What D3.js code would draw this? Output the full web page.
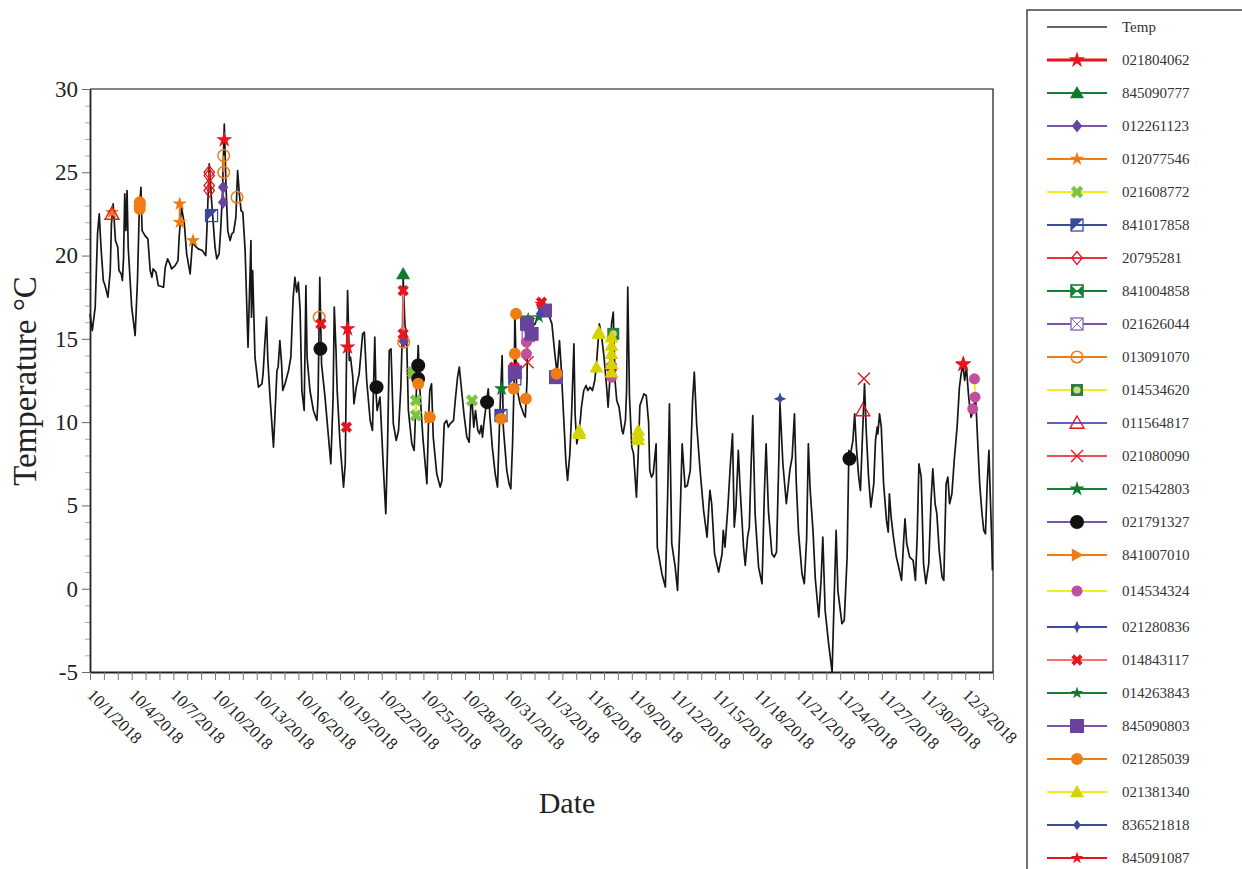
<!DOCTYPE html>
<html>
<head>
<meta charset="utf-8">
<script src="https://cdn.jsdelivr.net/npm/d3@7"></script>
<style>
  body { margin: 0; background: #fff; }
  text { font-family: "Liberation Serif", "Times New Roman", serif; }
</style>
</head>
<body>
<div id="main"></div>
<script>

// hourly logger temperature, hours counted from 2018-10-01 00:00
var tempHour = [0,4,9,13,16,19,23,26,31,35,37,40,44,48,50,54,56,58,60,62,64,66,72,78,82,85,88,90,95,100,
  104,107,109,114,118,127,130,134,138,141,147,152,154,158,163,167,173,177,181,187,194,200,202,206,210,216,219,223,226,229,
  232,235,238,242,245,248,252,255,258,261,264,268,273,278,279,281,285,291,297,299,302,305,307,311,317,323,325,328,331,333,
  337,343,347,351,354,357,360,363,366,370,373,375,380,386,392,394,397,400,406,412,416,420,422,425,427,432,438,441,443,445,
  448,450,454,456,460,465,471,474,478,484,488,492,494,496,501,507,511,514,517,520,524,529,533,537,540,541,544,547,550,556,
  560,563,567,570,575,582,585,587,590,593,599,605,608,612,616,619,622,628,631,635,638,642,646,651,655,658,660,663,666,670,
  673,676,678,681,685,688,691,695,700,704,708,712,714,720,724,727,730,733,734,737,743,749,752,755,756,763,769,775,780,786,
  792,798,803,807,811,814,818,822,825,829,832,836,838,841,844,847,849,853,857,860,864,868,872,875,880,884,888,893,895,898,
  901,904,907,910,914,919,921,925,927,929,932,936,939,944,947,950,953,957,961,965,967,970,973,978,980,988,994,998,1001,1005,
  1011,1015,1019,1023,1028,1032,1037,1041,1044,1048,1054,1060,1066,1069,1071,1074,1079,1086,1092,1094,1097,1102,1106,1110,1113,1116,1120,1123,1129,1132,
  1136,1139,1142,1145,1149,1155,1161,1165,1168,1172,1178,1182,1186,1190,1192,1197,1203,1209,1213,1217,1220,1224,1230,1234,1238,1241,1244,1249,1253,1259,
  1263,1266,1270,1276,1282,1286,1289,1292,1299,1303,1308,1311,1314,1318,1321,1324,1328,1331,1334,1338,1341,1345,1349,1354,1357,1360,1361,1364,1367,1371,
  1376,1379,1381,1384,1388,1393,1397,1402,1406,1408,1411,1416,1422,1426,1429,1432,1436,1440,1444,1449,1453,1456,1460,1463,1467,1472,1475,1479,1482,1485,
  1489,1493,1498,1502,1505,1508,1511,1514,1518,1522,1526,1530,1534,1537,1541,1544,1547,1550,1553,1555,1558,1559];

var tempValue = [16.5,15.5,16.9,21.3,22.5,20.5,18.5,18.2,17.5,19.1,21.9,23.1,20.9,20.5,19.1,18.9,18.5,19.9,23.7,21.5,
  23.9,20.5,16.9,15.2,18.5,22.5,24.1,21.5,21.2,21.0,19.1,18.7,19.2,19.0,18.2,18.1,19.3,19.8,19.5,19.2,
  19.4,19.7,21.1,22.9,21.9,20.1,18.9,20.8,20.6,20.4,20.3,20.0,21.6,25.5,23.3,20.5,19.8,20.1,21.7,23.9,
  27.9,24.1,21.5,20.9,21.3,21.4,22.3,25.1,23.7,22.7,22.6,20.3,14.5,20.9,16.3,19.1,13.9,12.1,12.3,12.9,
  14.7,16.3,13.9,11.5,8.5,13.1,13.3,14.9,13.5,11.9,12.3,13.1,13.9,17.5,18.7,17.8,18.4,16.7,11.9,10.7,
  18.2,13.9,11.9,10.7,10.1,11.5,18.7,13.5,11.5,9.1,7.5,11.5,16.9,14.3,11.9,8.7,6.1,7.5,13.5,17.9,
  13.7,13.9,12.7,11.1,12.1,12.9,15.3,15.4,12.5,10.1,9.5,15.1,11.9,10.7,11.5,7.1,4.5,8.5,14.3,14.4,
  9.9,8.9,9.5,12.1,15.9,18.7,15.9,15.1,10.7,8.7,8.3,11.1,14.6,11.9,9.1,6.3,10.3,11.9,12.3,9.1,
  6.9,6.1,6.5,9.9,10.1,9.7,9.9,10.1,11.3,12.7,13.3,11.9,10.5,9.1,8.8,11.1,11.3,9.7,10.7,9.5,
  9.3,9.8,9.1,10.1,11.2,12.0,10.3,8.5,6.9,6.1,10.5,14.0,9.7,7.1,6.3,6.0,8.7,12.9,16.6,12.1,
  11.1,10.5,10.3,12.5,15.9,15.7,15.9,16.5,17.0,16.9,16.5,15.9,14.1,12.9,14.9,13.3,10.5,7.7,6.5,8.1,
  10.5,14.7,10.5,8.7,9.3,10.1,10.9,11.9,12.2,11.9,12.1,11.9,12.5,13.5,15.9,15.1,13.9,11.9,10.9,12.5,
  15.9,16.6,12.5,11.3,10.9,9.5,9.3,10.1,11.9,18.1,11.5,8.5,8.1,5.5,8.0,11.0,11.3,11.7,11.6,10.0,
  7.1,6.7,6.9,8.7,2.5,0.9,0.1,5.7,11.1,2.7,1.3,-0.1,3.7,8.7,6.1,6.2,7.1,11.3,13.0,9.9,
  7.1,4.7,3.1,4.9,5.9,5.1,2.1,1.0,2.1,3.5,2.5,4.9,7.3,9.3,3.7,4.9,8.3,6.1,2.5,1.4,
  3.1,3.7,7.3,10.4,4.5,1.3,0.3,5.7,8.7,4.7,2.1,1.9,2.2,7.7,11.1,7.5,5.1,7.1,7.9,10.5,
  6.5,3.4,0.9,0.3,3.0,8.7,6.0,3.5,0.6,-1.7,0.5,3.1,-1.3,-3.3,-5.0,-0.1,3.5,-0.1,-2.1,-1.9,
  1.9,8.3,8.1,8.9,10.5,8.5,6.7,5.9,8.7,12.3,9.5,6.7,4.9,6.3,8.9,9.7,9.3,10.5,9.7,6.3,
  4.1,3.4,5.7,4.3,3.1,1.9,1.3,0.5,3.1,4.2,2.7,1.9,1.7,0.5,3.1,7.5,6.7,1.5,0.3,1.5,
  5.3,7.2,5.1,4.5,2.3,0.7,0.5,6.3,6.7,5.1,5.7,7.7,9.7,12.1,12.9,13.5,12.5,13.3,11.5,10.3,
  10.7,11.5,8.5,6.3,4.5,3.5,3.3,6.3,8.3,5.9,2.7,1.1];

// logger ids in legend order
var seriesIds = ['021804062', '845090777', '012261123', '012077546', '021608772', '841017858', '20795281',
  '841004858', '021626044', '013091070', '014534620', '011564817', '021080090', '021542803', '021791327',
  '841007010', '014534324', '021280836', '014843117', '014263843', '845090803', '021285039', '021381340',
  '836521818', '845091087'];

// [id, hour from 2018-10-01 00:00, temperature]
var observations = [
  ['011564817', 38, 22.5], ['011564817', 1335, 10.7],
  ['012077546', 38, 22.6], ['012077546', 155, 23.1], ['012077546', 155, 22.0], ['012077546', 178, 20.9], ['012077546', 558, 12.9],
  ['021285039', 86, 23.2], ['021285039', 86, 23.0], ['021285039', 86, 22.8], ['021285039', 567, 12.3], ['021285039', 587, 10.3],
  ['021285039', 710, 10.2], ['021285039', 732, 12.0], ['021285039', 734, 14.1], ['021285039', 736, 16.5], ['021285039', 753, 11.4],
  ['021285039', 806, 12.9],
  ['841017858', 210, 22.4], ['841017858', 710, 10.4], ['841017858', 734, 12.6],
  ['20795281', 206, 25.0], ['20795281', 206, 24.8], ['20795281', 206, 24.2], ['20795281', 206, 23.9],
  ['021804062', 232, 26.95], ['021804062', 445, 15.6], ['021804062', 445, 14.5], ['021804062', 757, 16.1],
  ['021804062', 1508, 13.45], ['021804062', 1509, 13.5],
  ['013091070', 231, 26.0], ['013091070', 231, 25.0], ['013091070', 254, 23.5], ['013091070', 396, 16.3], ['013091070', 542, 14.8],
  ['012261123', 230, 24.1], ['012261123', 230, 23.2], ['012261123', 542, 14.85],
  ['014843117', 399, 15.9], ['014843117', 443, 9.7], ['014843117', 541, 17.9], ['014843117', 541, 15.3],
  ['014843117', 733, 13.3], ['014843117', 734, 13.1], ['014843117', 780, 17.2], ['014843117', 901, 13.3],
  ['021791327', 398, 14.4], ['021791327', 495, 12.1], ['021791327', 567, 13.4], ['021791327', 567, 12.6],
  ['021791327', 686, 11.2], ['021791327', 1312, 7.8],
  ['845090777', 541, 18.9],
  ['021608772', 558, 13.0], ['021608772', 563, 11.3], ['021608772', 563, 10.4], ['021608772', 660, 11.3],
  ['841007010', 587, 10.3],
  ['021542803', 711, 12.0], ['021542803', 757, 16.1],
  ['845090803', 734, 13.0], ['845090803', 755, 15.9], ['845090803', 763, 15.3], ['845090803', 786, 16.7], ['845090803', 805, 12.7],
  ['014534324', 754, 14.8], ['014534324', 754, 14.1], ['014534324', 901, 12.7], ['014534324', 1525, 10.8],
  ['014534324', 1528, 12.6], ['014534324', 1529, 11.5],
  ['021080090', 756, 13.6], ['021080090', 1337, 12.6],
  ['841004858', 755, 16.0],
  ['014534620', 904, 15.3],
  ['836521818', 777, 16.5],
  ['014263843', 776, 16.3],
  ['845091087', 778, 17.1],
  ['021381340', 845, 9.3], ['021381340', 845, 9.4], ['021381340', 845, 9.5], ['021381340', 875, 13.3],
  ['021381340', 879, 15.3], ['021381340', 879, 15.4], ['021381340', 901, 15.1], ['021381340', 901, 14.6],
  ['021381340', 901, 14.1], ['021381340', 901, 13.5], ['021381340', 901, 13.0], ['021381340', 947, 9.5],
  ['021381340', 947, 9.2], ['021381340', 947, 8.95],
  ['021280836', 1192, 11.4],
  ['021626044', 757, 15.2]
];

var yMajorTicks = [-5, 0, 5, 10, 15, 20, 25, 30];

// look of each logger (line colour, marker)
var red = '#e8141e', green = '#16803a', purple = '#7d54ad', orange = '#f07d14', yellow = '#f4ea1c', blue = '#3a4a9e';
var seriesStyle = {
  '021804062': {line: red, lw: 3, shape: 'star', color: red, size: 17},
  '845090777': {line: green, lw: 2, shape: 'triangle', color: '#0f7a2e', size: 14},
  '012261123': {line: purple, lw: 2, shape: 'diamond', color: '#6a449c', size: 13},
  '012077546': {line: orange, lw: 2, shape: 'star', color: '#f07a10', size: 15},
  '021608772': {line: yellow, lw: 2, shape: 'xBold', color: '#7cc243', size: 13},
  '841017858': {line: blue, lw: 2, shape: 'halfSquare', color: blue, size: 12},
  '20795281': {line: '#e6343a', lw: 2, shape: 'diamondOpen', color: red, size: 13},
  '841004858': {line: green, lw: 2, shape: 'bowtie', color: green, size: 12},
  '021626044': {line: purple, lw: 2, shape: 'boxX', color: '#8a60b8', size: 12},
  '013091070': {line: orange, lw: 2, shape: 'circleOpen', color: orange, size: 13},
  '014534620': {line: yellow, lw: 2, shape: 'squareCircle', color: '#2f7d3a', inner: '#c9d98a', size: 12},
  '011564817': {line: '#5a65b8', lw: 2, shape: 'triangleOpen', color: red, size: 14},
  '021080090': {line: red, lw: 1.5, shape: 'xThin', color: red, size: 12},
  '021542803': {line: green, lw: 2, shape: 'star', color: '#0f7a2e', size: 16},
  '021791327': {line: purple, lw: 2, shape: 'circle', color: '#111', size: 14},
  '841007010': {line: orange, lw: 2, shape: 'triRight', color: orange, size: 13},
  '014534324': {line: yellow, lw: 2, shape: 'circle', color: '#c04f9e', size: 11},
  '021280836': {line: blue, lw: 2, shape: 'cross4', color: blue, size: 13},
  '014843117': {line: '#f07272', lw: 2, shape: 'xBold', color: red, size: 12},
  '014263843': {line: green, lw: 2, shape: 'star', color: '#0f7a2e', size: 13},
  '845090803': {line: purple, lw: 2, shape: 'square', color: '#6a449c', size: 14},
  '021285039': {line: orange, lw: 2, shape: 'circle', color: orange, size: 12},
  '021381340': {line: yellow, lw: 2, shape: 'triangle', color: '#d6d400', size: 14},
  '836521818': {line: blue, lw: 2, shape: 'diamond', color: blue, size: 10},
  '845091087': {line: red, lw: 2, shape: 'star', color: red, size: 13}
};

function drawMarker(g, st) {
  var h = st.size / 2;
  var c = st.color;
  if (st.shape === 'star') {
    g.append('path').attr('d', d3.symbol(d3.symbolStar, h * h / 0.89)()).attr('fill', c);
  } else if (st.shape === 'triangle' || st.shape === 'triangleOpen') {
    var tri = g.append('path').attr('d', 'M0,' + (-h) + 'L' + h + ',' + (h * 0.75) + 'L' + (-h) + ',' + (h * 0.75) + 'Z');
    if (st.shape === 'triangle') tri.attr('fill', c);
    else tri.attr('fill', 'none').attr('stroke', c).attr('stroke-width', 1.4);
  } else if (st.shape === 'diamond' || st.shape === 'diamondOpen') {
    var dia = g.append('path').attr('d', 'M0,' + (-h) + 'L' + (h * 0.8) + ',0L0,' + h + 'L' + (-h * 0.8) + ',0Z');
    if (st.shape === 'diamond') dia.attr('fill', c);
    else dia.attr('fill', 'none').attr('stroke', c).attr('stroke-width', 1.3);
  } else if (st.shape === 'square') {
    g.append('rect').attr('x', -h).attr('y', -h).attr('width', 2 * h).attr('height', 2 * h).attr('fill', c);
  } else if (st.shape === 'halfSquare') {
    g.append('path').attr('d', 'M' + (-h) + ',' + (-h) + 'L' + h + ',' + (-h) + 'L' + (-h) + ',' + h + 'Z').attr('fill', c);
    g.append('rect').attr('x', -h).attr('y', -h).attr('width', 2 * h).attr('height', 2 * h)
      .attr('fill', 'none').attr('stroke', c).attr('stroke-width', 1.3);
  } else if (st.shape === 'bowtie') {
    g.append('path').attr('d', 'M' + (-h) + ',' + (-h) + 'L0,0L' + (-h) + ',' + h + 'Z M' + h + ',' + (-h) + 'L0,0L' + h + ',' + h + 'Z')
      .attr('fill', c);
    g.append('rect').attr('x', -h).attr('y', -h).attr('width', 2 * h).attr('height', 2 * h)
      .attr('fill', 'none').attr('stroke', c).attr('stroke-width', 1.6);
  } else if (st.shape === 'boxX') {
    g.append('rect').attr('x', -h).attr('y', -h).attr('width', 2 * h).attr('height', 2 * h)
      .attr('fill', '#fff').attr('stroke', c).attr('stroke-width', 1.3);
    g.append('path').attr('d', 'M' + (-h) + ',' + (-h) + 'L' + h + ',' + h + 'M' + h + ',' + (-h) + 'L' + (-h) + ',' + h)
      .attr('stroke', c).attr('stroke-width', 1);
  } else if (st.shape === 'circle') {
    g.append('circle').attr('r', h).attr('fill', c);
  } else if (st.shape === 'circleOpen') {
    g.append('circle').attr('r', h - 0.7).attr('fill', 'none').attr('stroke', c).attr('stroke-width', 1.5);
  } else if (st.shape === 'squareCircle') {
    g.append('rect').attr('x', -h).attr('y', -h).attr('width', 2 * h).attr('height', 2 * h).attr('fill', c);
    g.append('circle').attr('r', h * 0.6).attr('fill', st.inner);
  } else if (st.shape === 'xThin') {
    g.append('path').attr('d', 'M' + (-h) + ',' + (-h) + 'L' + h + ',' + h + 'M' + h + ',' + (-h) + 'L' + (-h) + ',' + h)
      .attr('stroke', c).attr('stroke-width', 1.4);
  } else if (st.shape === 'xBold') {
    var arm = st.size / 3;
    g.append('path').attr('d', d3.symbol(d3.symbolCross, 5 * arm * arm)()).attr('transform', 'rotate(45)').attr('fill', c);
  } else if (st.shape === 'triRight') {
    g.append('path').attr('d', 'M' + (-h * 0.8) + ',' + (-h) + 'L' + h + ',0L' + (-h * 0.8) + ',' + h + 'Z').attr('fill', c);
  } else if (st.shape === 'cross4') {
    var k = h * 0.28;
    g.append('path').attr('d', 'M0,' + (-h) + 'L' + k + ',' + (-k) + 'L' + h + ',0L' + k + ',' + k + 'L0,' + h +
      'L' + (-k) + ',' + k + 'L' + (-h) + ',0L' + (-k) + ',' + (-k) + 'Z').attr('fill', c);
  }
}

function create_chart() {

  var width = 1242;
  var height = 869;

  var svg = d3.select('#main').append('svg').attr('width', width).attr('height', height);

  var start = new Date(Date.UTC(2018, 9, 1));
  var end = new Date(Date.UTC(2018, 11, 5));
  var atHour = function (h) { return d3.utcHour.offset(start, h); };

  var xScale = d3.scaleUtc().domain([start, end]).range([90, 993]);
  var yScale = d3.scaleLinear().domain([-5, 30]).range([672, 89]);

  // frame (top and right)
  svg.append('path')
    .attr('d', 'M' + xScale.range()[0] + ',' + yScale(30) + 'H' + xScale.range()[1] + 'V' + yScale(-5))
    .attr('fill', 'none').attr('stroke', '#111').attr('stroke-width', 1.2);

  // y minor ticks
  var minor = d3.range(-5, 31).filter(function (v) { return v % 5 !== 0; });
  svg.append('g')
    .attr('transform', 'translate(90,0)')
    .call(d3.axisLeft(yScale).tickValues(minor).tickSize(5).tickFormat(''))
    .call(function (g) {
      g.select('.domain').remove();
      g.selectAll('line').attr('stroke', '#aaa');
    });

  // y axis
  svg.append('g')
    .attr('transform', 'translate(90,0)')
    .call(d3.axisLeft(yScale).tickValues(yMajorTicks).tickSize(8).tickSizeOuter(0).tickPadding(4)
      .tickFormat(function (d) { return String(d); }))
    .call(function (g) {
      g.select('.domain').attr('stroke', '#222').attr('stroke-width', 1.8);
      g.selectAll('line').attr('stroke', '#666');
      g.selectAll('text').attr('font-size', 23).attr('fill', '#222')
        .attr('font-family', '"Liberation Serif", "Times New Roman", serif');
    });

  // x axis, a tick each day and a label every third day
  var fmt = d3.utcFormat('%-m/%-d/%Y');
  var days = d3.utcDay.range(start, d3.utcDay.offset(end, 1));
  svg.append('g')
    .attr('transform', 'translate(0,' + yScale(-5) + ')')
    .call(d3.axisBottom(xScale).tickValues(days).tickSize(8).tickSizeOuter(0)
      .tickFormat(function (d, i) { return i % 3 === 0 && i < 64 ? fmt(d) : ''; }))
    .call(function (g) {
      g.select('.domain').attr('stroke', '#222').attr('stroke-width', 1.8);
      g.selectAll('line').attr('stroke', '#777');
      g.selectAll('text')
        .attr('font-size', 17).attr('fill', '#222')
        .attr('font-family', '"Liberation Serif", "Times New Roman", serif')
        .attr('text-anchor', 'start')
        .attr('transform', 'rotate(45)')
        .attr('x', 14).attr('y', 20).attr('dy', 0);
    });

  // axis titles
  svg.append('text')
    .attr('transform', 'translate(36,381) rotate(-90)')
    .attr('text-anchor', 'middle')
    .attr('font-size', 33).attr('fill', '#222')
    .text('Temperature °C');

  svg.append('text')
    .attr('x', 567).attr('y', 813)
    .attr('text-anchor', 'middle')
    .attr('font-size', 30).attr('fill', '#222')
    .text('Date');

  // temperature line
  var tempData = tempHour.map(function (h, i) { return {t: atHour(h), v: tempValue[i]}; });

  var lineGenerator = d3.line()
    .x(function (d) { return xScale(d.t); })
    .y(function (d) { return yScale(d.v); });

  svg.append('path')
    .datum(tempData)
    .attr('fill', 'none')
    .attr('stroke', '#161616')
    .attr('stroke-width', 1.7)
    .attr('stroke-linejoin', 'round')
    .attr('d', lineGenerator);

  // group logger observations
  var bySeries = {};
  observations.forEach(function (o) {
    if (bySeries[o[0]] === undefined) bySeries[o[0]] = [];
    bySeries[o[0]].push({h: o[1], t: atHour(o[1]), v: o[2]});
  });

  // lines joining readings taken in the same hour or the next one
  seriesIds.forEach(function (id) {
    var pts = (bySeries[id] || []).slice().sort(function (a, b) { return a.h - b.h; });
    var seg = [];
    var segs = [];
    pts.forEach(function (p, i) {
      if (i > 0 && p.h - pts[i - 1].h > 1) {
        segs.push(seg);
        seg = [];
      }
      seg.push(p);
    });
    if (seg.length) segs.push(seg);
    segs.filter(function (s) { return s.length > 1; }).forEach(function (s) {
      svg.append('path')
        .datum(s)
        .attr('fill', 'none')
        .attr('stroke', seriesStyle[id].line)
        .attr('stroke-width', seriesStyle[id].lw)
        .attr('d', lineGenerator);
    });
  });

  // markers
  seriesIds.forEach(function (id) {
    (bySeries[id] || []).forEach(function (p) {
      var g = svg.append('g').attr('transform', 'translate(' + xScale(p.t) + ',' + yScale(p.v) + ')');
      drawMarker(g, seriesStyle[id]);
    });
  });

  // legend
  var legend = svg.append('g');
  legend.append('rect')
    .attr('x', 1027).attr('y', 10).attr('width', 300).attr('height', 900)
    .attr('fill', '#fff').attr('stroke', '#444').attr('stroke-width', 1.5);

  var entries = ['Temp'].concat(seriesIds);
  entries.forEach(function (name, i) {
    var ly = 27 + 33 * i + (i >= 17 ? 3 : 0) + (i >= 18 ? 3 : 0);
    var row = legend.append('g').attr('transform', 'translate(0,' + ly + ')');
    var st = seriesStyle[name];
    row.append('line')
      .attr('x1', 1047).attr('x2', 1107)
      .attr('stroke', st ? st.line : '#333')
      .attr('stroke-width', st ? st.lw : 1.5);
    if (st) {
      drawMarker(row.append('g').attr('transform', 'translate(1077,0)'), st);
    }
    row.append('text')
      .attr('x', 1122).attr('dy', '0.35em')
      .attr('font-size', 15).attr('fill', '#333')
      .text(name);
  });
}

create_chart();
</script>
</body>
</html>
